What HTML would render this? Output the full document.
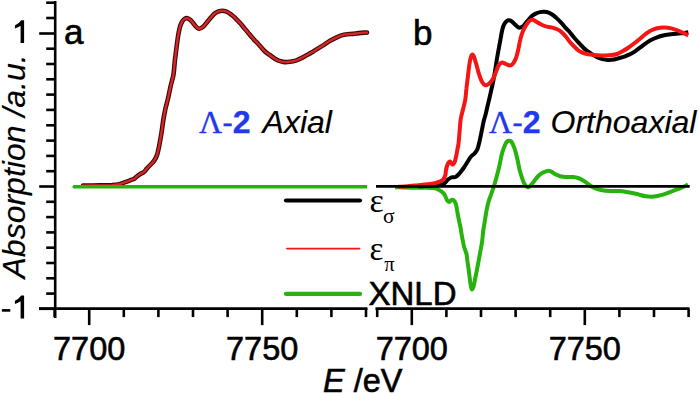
<!DOCTYPE html>
<html><head><meta charset="utf-8"><style>
html,body{margin:0;padding:0;background:#fff;}
svg{display:block;}
text{font-family:"Liberation Sans",sans-serif;stroke:#000;stroke-width:0.6px;}
.nb{stroke:none;}
.it{font-style:italic;stroke-width:0.15px;}
.bl{fill:#2238ec;stroke:#2238ec;stroke-width:0.3px;}
.sf{font-family:"Liberation Serif",serif;}
</style></head><body>
<svg width="700" height="394" viewBox="0 0 700 394">
<rect width="700" height="394" fill="#fff"/>
<g stroke="#000" stroke-width="2.6" fill="none" stroke-linecap="butt">
<line x1="55.2" y1="1" x2="55.2" y2="318"/>
<line x1="46.2" y1="2.7" x2="55.2" y2="2.7"/><line x1="46.2" y1="18.0" x2="55.2" y2="18.0"/><line x1="46.2" y1="48.7" x2="55.2" y2="48.7"/><line x1="46.2" y1="64.0" x2="55.2" y2="64.0"/><line x1="46.2" y1="79.3" x2="55.2" y2="79.3"/><line x1="46.2" y1="94.6" x2="55.2" y2="94.6"/><line x1="46.2" y1="109.9" x2="55.2" y2="109.9"/><line x1="46.2" y1="125.3" x2="55.2" y2="125.3"/><line x1="46.2" y1="140.6" x2="55.2" y2="140.6"/><line x1="46.2" y1="155.9" x2="55.2" y2="155.9"/><line x1="46.2" y1="171.2" x2="55.2" y2="171.2"/><line x1="46.2" y1="201.8" x2="55.2" y2="201.8"/><line x1="46.2" y1="217.1" x2="55.2" y2="217.1"/><line x1="46.2" y1="232.4" x2="55.2" y2="232.4"/><line x1="46.2" y1="247.7" x2="55.2" y2="247.7"/><line x1="46.2" y1="263.0" x2="55.2" y2="263.0"/><line x1="46.2" y1="278.3" x2="55.2" y2="278.3"/><line x1="46.2" y1="293.6" x2="55.2" y2="293.6"/><line x1="39.2" y1="33.5" x2="55.2" y2="33.5"/><line x1="39.2" y1="186.5" x2="55.2" y2="186.5"/><line x1="39.2" y1="308.8" x2="55.2" y2="308.8"/>
<line x1="39" y1="308.6" x2="367.5" y2="308.6"/>
<line x1="375.5" y1="308.6" x2="689.5" y2="308.6"/>
<line x1="54.6" y1="308.6" x2="54.6" y2="317.1"/><line x1="123.8" y1="308.6" x2="123.8" y2="317.1"/><line x1="158.4" y1="308.6" x2="158.4" y2="317.1"/><line x1="193.0" y1="308.6" x2="193.0" y2="317.1"/><line x1="227.6" y1="308.6" x2="227.6" y2="317.1"/><line x1="296.8" y1="308.6" x2="296.8" y2="317.1"/><line x1="331.4" y1="308.6" x2="331.4" y2="317.1"/><line x1="366.0" y1="308.6" x2="366.0" y2="317.1"/><line x1="89.2" y1="308.6" x2="89.2" y2="325.1"/><line x1="262.2" y1="308.6" x2="262.2" y2="325.1"/>
<line x1="377.2" y1="308.6" x2="377.2" y2="317.1"/><line x1="446.4" y1="308.6" x2="446.4" y2="317.1"/><line x1="481.0" y1="308.6" x2="481.0" y2="317.1"/><line x1="515.6" y1="308.6" x2="515.6" y2="317.1"/><line x1="550.2" y1="308.6" x2="550.2" y2="317.1"/><line x1="619.4" y1="308.6" x2="619.4" y2="317.1"/><line x1="654.0" y1="308.6" x2="654.0" y2="317.1"/><line x1="688.6" y1="308.6" x2="688.6" y2="317.1"/><line x1="411.8" y1="308.6" x2="411.8" y2="325.1"/><line x1="584.8" y1="308.6" x2="584.8" y2="325.1"/>
</g>
<!-- panel a -->
<path d="M83.0,185.6 C85.8,185.6 95.2,185.5 100.0,185.4 C104.8,185.3 109.0,185.2 112.0,185.1 C115.0,184.9 116.3,184.8 118.0,184.5 C119.7,184.2 120.8,183.7 122.0,183.3 C123.2,182.9 123.9,182.7 125.3,182.2 C126.7,181.7 128.9,180.8 130.4,180.2 C131.9,179.6 133.2,179.3 134.3,178.7 C135.4,178.1 135.8,177.3 136.8,176.5 C137.8,175.7 139.1,174.8 140.3,174.0 C141.5,173.2 142.9,172.8 143.9,172.0 C144.9,171.2 145.7,169.9 146.6,168.9 C147.5,167.9 148.2,167.1 149.2,166.0 C150.2,164.9 151.8,163.7 152.8,162.4 C153.9,161.2 154.8,159.7 155.5,158.5 C156.2,157.3 156.6,156.3 157.0,155.0 C157.4,153.7 157.6,153.1 158.1,150.9 C158.6,148.7 159.3,145.3 159.9,142.0 C160.5,138.7 161.1,135.1 161.7,131.3 C162.3,127.6 162.9,122.5 163.4,119.5 C163.9,116.5 164.2,114.9 164.6,113.0 C165.0,111.1 165.1,110.0 165.6,108.0 C166.1,106.0 166.8,103.3 167.4,101.0 C168.0,98.7 168.5,96.4 169.0,94.0 C169.5,91.6 170.0,89.0 170.5,86.7 C171.0,84.4 171.7,82.0 172.2,80.0 C172.7,78.0 173.2,76.7 173.5,74.5 C173.8,72.3 174.1,69.4 174.3,67.0 C174.5,64.6 174.6,63.1 174.9,60.3 C175.2,57.5 175.8,53.4 176.2,50.0 C176.6,46.6 177.1,43.0 177.5,40.0 C177.9,37.0 178.3,34.4 178.8,32.0 C179.3,29.6 179.7,27.6 180.3,25.8 C180.9,24.0 181.6,22.5 182.3,21.3 C183.0,20.1 183.8,19.4 184.6,18.9 C185.4,18.4 186.3,17.9 187.4,18.2 C188.5,18.5 189.7,19.3 191.0,20.5 C192.3,21.7 193.7,24.1 195.0,25.5 C196.3,26.9 197.6,28.6 199.0,28.8 C200.4,29.0 202.1,27.6 203.4,26.5 C204.7,25.4 205.8,23.7 206.9,22.3 C208.1,20.9 209.2,19.6 210.3,18.3 C211.4,17.0 212.6,15.4 213.7,14.3 C214.8,13.2 215.9,12.6 217.1,12.0 C218.2,11.4 219.4,11.1 220.6,10.9 C221.8,10.7 222.9,10.7 224.0,10.9 C225.1,11.1 226.2,11.4 227.4,12.0 C228.6,12.6 229.8,13.5 230.9,14.3 C232.1,15.2 233.2,16.1 234.3,17.1 C235.4,18.2 236.6,19.4 237.7,20.6 C238.8,21.8 239.9,22.9 241.1,24.2 C242.2,25.5 243.4,27.2 244.6,28.6 C245.8,30.0 246.9,31.3 248.0,32.6 C249.1,33.9 250.2,35.3 251.4,36.6 C252.6,37.9 253.8,39.4 254.9,40.6 C256.1,41.8 256.8,42.4 258.3,44.0 C259.8,45.6 262.1,48.6 264.0,50.5 C265.9,52.4 268.3,53.9 270.0,55.2 C271.7,56.5 272.9,57.4 274.3,58.3 C275.7,59.2 276.9,60.1 278.6,60.7 C280.3,61.3 282.4,61.9 284.3,62.1 C286.2,62.3 288.1,62.0 290.0,61.7 C291.9,61.5 293.8,61.2 295.7,60.6 C297.6,60.0 299.5,59.0 301.4,58.1 C303.3,57.2 305.2,56.0 307.1,55.0 C309.0,54.0 311.0,52.9 312.9,51.8 C314.8,50.6 316.7,49.3 318.6,48.1 C320.5,46.9 322.4,45.8 324.3,44.6 C326.2,43.4 328.1,41.8 330.0,40.7 C331.9,39.6 333.8,38.8 335.7,37.9 C337.6,37.0 339.5,36.0 341.4,35.4 C343.3,34.8 345.2,34.5 347.1,34.3 C349.0,34.0 351.0,34.1 352.9,33.9 C354.8,33.7 356.7,33.3 358.6,33.1 C360.5,32.9 362.9,32.7 364.3,32.6 C365.7,32.5 366.6,32.6 367.0,32.6" fill="none" stroke="#3a0808" stroke-width="4.6" stroke-linejoin="round" stroke-linecap="round"/>
<path d="M83.0,185.6 C85.8,185.6 95.2,185.5 100.0,185.4 C104.8,185.3 109.0,185.2 112.0,185.1 C115.0,184.9 116.3,184.8 118.0,184.5 C119.7,184.2 120.8,183.7 122.0,183.3 C123.2,182.9 123.9,182.7 125.3,182.2 C126.7,181.7 128.9,180.8 130.4,180.2 C131.9,179.6 133.2,179.3 134.3,178.7 C135.4,178.1 135.8,177.3 136.8,176.5 C137.8,175.7 139.1,174.8 140.3,174.0 C141.5,173.2 142.9,172.8 143.9,172.0 C144.9,171.2 145.7,169.9 146.6,168.9 C147.5,167.9 148.2,167.1 149.2,166.0 C150.2,164.9 151.8,163.7 152.8,162.4 C153.9,161.2 154.8,159.7 155.5,158.5 C156.2,157.3 156.6,156.3 157.0,155.0 C157.4,153.7 157.6,153.1 158.1,150.9 C158.6,148.7 159.3,145.3 159.9,142.0 C160.5,138.7 161.1,135.1 161.7,131.3 C162.3,127.6 162.9,122.5 163.4,119.5 C163.9,116.5 164.2,114.9 164.6,113.0 C165.0,111.1 165.1,110.0 165.6,108.0 C166.1,106.0 166.8,103.3 167.4,101.0 C168.0,98.7 168.5,96.4 169.0,94.0 C169.5,91.6 170.0,89.0 170.5,86.7 C171.0,84.4 171.7,82.0 172.2,80.0 C172.7,78.0 173.2,76.7 173.5,74.5 C173.8,72.3 174.1,69.4 174.3,67.0 C174.5,64.6 174.6,63.1 174.9,60.3 C175.2,57.5 175.8,53.4 176.2,50.0 C176.6,46.6 177.1,43.0 177.5,40.0 C177.9,37.0 178.3,34.4 178.8,32.0 C179.3,29.6 179.7,27.6 180.3,25.8 C180.9,24.0 181.6,22.5 182.3,21.3 C183.0,20.1 183.8,19.4 184.6,18.9 C185.4,18.4 186.3,17.9 187.4,18.2 C188.5,18.5 189.7,19.3 191.0,20.5 C192.3,21.7 193.7,24.1 195.0,25.5 C196.3,26.9 197.6,28.6 199.0,28.8 C200.4,29.0 202.1,27.6 203.4,26.5 C204.7,25.4 205.8,23.7 206.9,22.3 C208.1,20.9 209.2,19.6 210.3,18.3 C211.4,17.0 212.6,15.4 213.7,14.3 C214.8,13.2 215.9,12.6 217.1,12.0 C218.2,11.4 219.4,11.1 220.6,10.9 C221.8,10.7 222.9,10.7 224.0,10.9 C225.1,11.1 226.2,11.4 227.4,12.0 C228.6,12.6 229.8,13.5 230.9,14.3 C232.1,15.2 233.2,16.1 234.3,17.1 C235.4,18.2 236.6,19.4 237.7,20.6 C238.8,21.8 239.9,22.9 241.1,24.2 C242.2,25.5 243.4,27.2 244.6,28.6 C245.8,30.0 246.9,31.3 248.0,32.6 C249.1,33.9 250.2,35.3 251.4,36.6 C252.6,37.9 253.8,39.4 254.9,40.6 C256.1,41.8 256.8,42.4 258.3,44.0 C259.8,45.6 262.1,48.6 264.0,50.5 C265.9,52.4 268.3,53.9 270.0,55.2 C271.7,56.5 272.9,57.4 274.3,58.3 C275.7,59.2 276.9,60.1 278.6,60.7 C280.3,61.3 282.4,61.9 284.3,62.1 C286.2,62.3 288.1,62.0 290.0,61.7 C291.9,61.5 293.8,61.2 295.7,60.6 C297.6,60.0 299.5,59.0 301.4,58.1 C303.3,57.2 305.2,56.0 307.1,55.0 C309.0,54.0 311.0,52.9 312.9,51.8 C314.8,50.6 316.7,49.3 318.6,48.1 C320.5,46.9 322.4,45.8 324.3,44.6 C326.2,43.4 328.1,41.8 330.0,40.7 C331.9,39.6 333.8,38.8 335.7,37.9 C337.6,37.0 339.5,36.0 341.4,35.4 C343.3,34.8 345.2,34.5 347.1,34.3 C349.0,34.0 351.0,34.1 352.9,33.9 C354.8,33.7 356.7,33.3 358.6,33.1 C360.5,32.9 362.9,32.7 364.3,32.6 C365.7,32.5 366.6,32.6 367.0,32.6" fill="none" stroke="#d62626" stroke-width="2.4" stroke-linejoin="round" stroke-linecap="round"/>
<line x1="74.2" y1="186.8" x2="367" y2="186.8" stroke="#27b20d" stroke-width="3.6" stroke-linecap="butt"/><circle cx="74.2" cy="186.8" r="1.8" fill="#27b20d"/>
<!-- panel b -->
<path d="M395.0,187.2 C396.7,187.2 400.8,187.4 405.0,187.5 C409.2,187.6 415.5,187.7 420.0,187.8 C424.5,187.9 429.2,187.8 432.0,188.0 C434.8,188.2 435.4,188.2 437.0,188.8 C438.6,189.4 440.2,190.5 441.5,191.5 C442.8,192.5 443.7,193.2 444.6,194.6 C445.5,196.0 446.1,198.7 446.9,199.9 C447.6,201.1 448.4,202.0 449.1,202.0 C449.9,202.0 450.6,200.3 451.4,200.0 C452.2,199.7 452.9,199.4 453.7,200.2 C454.5,200.9 455.4,202.4 456.0,204.5 C456.6,206.6 457.0,210.1 457.5,212.8 C458.0,215.5 458.5,218.0 459.0,220.5 C459.5,223.0 460.1,225.2 460.6,228.0 C461.1,230.8 461.5,234.1 462.1,237.2 C462.7,240.3 463.3,243.7 464.0,246.5 C464.7,249.3 465.9,251.6 466.5,254.0 C467.1,256.4 467.1,258.7 467.4,261.0 C467.7,263.3 468.0,265.3 468.4,267.9 C468.8,270.4 469.1,273.5 469.5,276.3 C469.9,279.1 470.2,282.4 470.6,284.6 C471.0,286.8 471.3,289.3 471.8,289.5 C472.3,289.7 473.1,287.8 473.7,286.0 C474.2,284.2 474.6,281.6 475.1,279.0 C475.6,276.4 476.2,273.7 476.8,270.7 C477.4,267.7 478.0,264.2 478.6,261.0 C479.2,257.8 479.8,254.4 480.4,251.2 C481.0,247.9 481.6,245.1 482.1,241.5 C482.6,237.9 482.9,233.1 483.4,229.6 C483.9,226.1 484.4,223.6 484.9,220.5 C485.4,217.4 485.8,214.4 486.4,211.3 C487.0,208.2 487.6,205.0 488.4,202.2 C489.2,199.4 490.2,196.8 491.0,194.6 C491.8,192.4 492.4,190.9 493.0,189.0 C493.6,187.1 494.2,185.3 494.9,183.0 C495.6,180.7 496.4,177.9 497.1,175.0 C497.9,172.1 498.8,168.4 499.4,165.7 C500.0,163.0 500.3,161.2 500.8,159.0 C501.3,156.8 501.6,154.6 502.3,152.3 C503.0,150.0 504.1,147.0 504.9,145.2 C505.7,143.4 506.2,142.4 506.9,141.7 C507.6,141.0 508.4,140.8 509.2,140.8 C510.0,140.8 510.6,140.4 511.5,141.7 C512.4,142.9 513.7,146.0 514.5,148.3 C515.3,150.6 515.9,153.0 516.5,155.4 C517.1,157.8 517.6,160.1 518.1,162.5 C518.6,164.9 519.1,167.9 519.6,170.0 C520.1,172.1 520.5,173.1 521.1,175.0 C521.7,176.9 522.6,179.9 523.4,181.7 C524.2,183.5 524.9,184.8 525.7,185.7 C526.5,186.6 527.2,187.4 528.0,187.4 C528.8,187.4 529.3,186.6 530.3,185.7 C531.2,184.8 532.4,183.3 533.7,181.7 C535.0,180.1 536.8,177.5 538.3,176.0 C539.8,174.5 541.4,173.4 542.9,172.6 C544.4,171.8 546.1,171.1 547.4,170.9 C548.7,170.7 549.6,170.8 550.9,171.4 C552.2,172.0 553.9,173.5 555.4,174.3 C556.9,175.1 558.2,175.8 560.0,176.2 C561.8,176.6 564.0,176.9 566.0,177.0 C568.0,177.1 570.0,176.8 572.0,177.0 C574.0,177.2 576.0,177.3 578.0,178.0 C580.0,178.7 582.0,179.8 584.0,181.0 C586.0,182.2 588.0,184.2 590.0,185.5 C592.0,186.8 594.0,187.8 596.0,188.6 C598.0,189.4 599.5,189.9 602.0,190.3 C604.5,190.7 608.0,190.9 611.0,191.0 C614.0,191.1 616.8,190.8 619.7,191.0 C622.6,191.2 625.5,191.8 628.4,192.3 C631.3,192.8 634.1,193.3 637.0,194.0 C639.9,194.7 642.7,195.9 645.6,196.3 C648.5,196.7 651.4,196.9 654.3,196.6 C657.2,196.3 660.1,195.4 663.0,194.6 C665.9,193.8 668.7,192.6 671.5,191.5 C674.3,190.4 677.2,189.5 680.0,188.3 C682.8,187.1 686.7,185.1 688.0,184.5" fill="none" stroke="#27b20d" stroke-width="4" stroke-linejoin="round" stroke-linecap="butt"/>
<path d="M418.0,186.3 C419.2,186.3 422.7,186.2 425.0,186.1 C427.3,186.0 429.3,185.8 432.0,185.6 C434.7,185.4 439.3,185.3 441.4,184.9 C443.5,184.5 443.7,183.9 444.8,183.0 C445.9,182.1 446.9,180.4 448.0,179.5 C449.1,178.6 450.2,177.7 451.5,177.3 C452.8,176.9 454.3,177.5 455.5,177.0 C456.7,176.5 457.6,175.4 458.5,174.5 C459.4,173.6 460.1,172.7 461.0,171.5 C461.9,170.3 463.1,168.8 464.0,167.5 C464.9,166.2 465.7,164.8 466.5,163.5 C467.3,162.2 468.2,160.8 469.0,159.5 C469.8,158.2 470.6,157.0 471.5,156.0 C472.4,155.0 473.5,154.7 474.5,153.5 C475.5,152.3 476.7,151.0 477.5,149.0 C478.3,147.0 478.8,144.3 479.5,141.5 C480.2,138.7 480.8,135.2 481.5,132.0 C482.2,128.8 482.8,125.0 483.5,122.0 C484.2,119.0 485.0,116.8 485.7,114.0 C486.4,111.2 487.1,107.8 487.8,105.0 C488.5,102.2 489.1,99.7 489.7,97.0 C490.3,94.3 490.9,91.8 491.5,89.0 C492.1,86.2 492.9,83.2 493.5,80.0 C494.1,76.8 494.7,73.3 495.2,70.0 C495.7,66.7 496.2,63.4 496.7,60.2 C497.2,57.1 497.8,54.1 498.3,51.1 C498.9,48.1 499.4,45.0 500.0,42.0 C500.6,39.0 501.1,35.6 501.6,33.0 C502.1,30.4 502.6,28.3 503.2,26.5 C503.8,24.7 504.7,23.3 505.5,22.3 C506.3,21.3 507.2,20.5 508.1,20.3 C509.1,20.1 510.2,20.4 511.2,21.0 C512.2,21.6 513.2,22.8 514.2,23.7 C515.2,24.6 516.5,26.0 517.5,26.7 C518.5,27.4 519.0,27.8 520.0,27.6 C521.0,27.4 522.4,26.7 523.6,25.7 C524.8,24.7 525.8,22.9 527.1,21.4 C528.4,19.8 530.0,17.7 531.4,16.4 C532.8,15.1 534.3,14.3 535.7,13.6 C537.1,12.9 538.6,12.4 540.0,12.1 C541.4,11.8 542.9,11.6 544.3,11.7 C545.7,11.8 547.2,12.0 548.6,12.6 C550.0,13.2 551.5,14.0 552.9,15.0 C554.3,16.0 555.7,17.3 557.1,18.6 C558.5,19.9 560.0,21.3 561.4,22.9 C562.8,24.4 564.3,26.3 565.7,27.9 C567.1,29.5 568.6,30.9 570.0,32.5 C571.4,34.1 572.4,35.7 574.0,37.5 C575.6,39.3 577.5,41.5 579.4,43.5 C581.2,45.5 583.2,47.8 585.1,49.4 C587.0,51.0 589.0,52.1 590.9,53.4 C592.8,54.6 594.7,55.9 596.6,56.9 C598.5,57.9 600.4,58.6 602.3,59.1 C604.2,59.6 606.1,59.8 608.0,59.9 C609.9,60.0 611.8,59.8 613.7,59.5 C615.6,59.2 617.5,58.5 619.4,58.0 C621.3,57.5 623.2,57.0 625.1,56.3 C627.0,55.6 629.1,54.8 631.0,53.8 C632.9,52.8 634.6,51.6 636.6,50.2 C638.6,48.8 640.8,46.9 643.0,45.3 C645.2,43.7 647.7,41.8 650.0,40.5 C652.3,39.2 654.7,38.2 657.0,37.3 C659.3,36.4 661.7,35.8 664.0,35.3 C666.3,34.8 668.6,34.5 671.0,34.2 C673.4,33.9 676.4,33.7 678.6,33.5 C680.8,33.3 682.7,33.2 684.3,33.0 C685.9,32.8 687.6,32.3 688.3,32.2" fill="none" stroke="#000" stroke-width="4" stroke-linejoin="round" stroke-linecap="butt"/>
<path d="M398.0,186.8 C399.2,186.7 402.2,186.6 405.0,186.4 C407.8,186.2 411.7,185.8 415.0,185.5 C418.3,185.2 422.2,184.9 425.0,184.6 C427.8,184.3 430.0,184.0 432.0,183.7 C434.0,183.4 435.0,183.2 436.8,182.6 C438.6,182.0 441.2,181.2 442.6,180.0 C444.0,178.8 444.7,177.0 445.3,175.3 C445.9,173.6 445.6,172.0 446.0,170.0 C446.4,168.0 447.3,164.9 448.0,163.5 C448.7,162.1 449.2,161.3 450.0,161.5 C450.8,161.7 451.8,164.3 452.5,164.5 C453.2,164.7 453.9,163.8 454.5,162.5 C455.1,161.2 455.5,159.1 456.0,157.0 C456.5,154.9 456.9,152.3 457.3,150.0 C457.7,147.7 458.2,146.3 458.6,143.0 C459.0,139.7 459.3,134.1 459.7,130.0 C460.1,125.9 460.2,122.0 460.8,118.5 C461.4,115.0 462.4,112.1 463.1,109.0 C463.8,105.9 464.6,103.3 465.2,100.0 C465.8,96.7 465.9,92.9 466.4,89.0 C466.8,85.1 467.4,80.6 467.9,76.5 C468.4,72.4 468.9,67.6 469.4,64.3 C469.9,61.0 470.5,58.4 471.0,56.7 C471.5,55.1 472.0,54.4 472.5,54.4 C473.0,54.4 473.4,55.1 474.0,56.7 C474.6,58.4 475.4,61.2 476.3,64.3 C477.2,67.3 478.3,72.0 479.3,75.0 C480.3,78.0 481.4,80.9 482.4,82.6 C483.4,84.3 484.4,85.0 485.4,85.3 C486.4,85.5 487.5,84.8 488.5,84.1 C489.5,83.4 490.6,82.1 491.5,81.0 C492.4,79.9 492.9,79.3 493.8,77.5 C494.7,75.7 495.8,72.1 496.7,70.0 C497.6,67.9 498.1,66.0 499.0,64.8 C499.9,63.5 500.9,62.6 502.0,62.5 C503.1,62.4 504.6,63.5 505.9,64.0 C507.2,64.5 508.6,65.5 509.7,65.5 C510.8,65.5 511.7,65.2 512.7,64.0 C513.8,62.8 515.0,60.6 516.0,58.0 C517.0,55.4 517.8,51.6 518.5,48.5 C519.2,45.4 519.5,42.4 520.3,39.5 C521.0,36.6 522.0,33.5 523.0,31.0 C524.0,28.5 525.3,26.2 526.5,24.5 C527.7,22.8 528.9,21.3 530.0,20.5 C531.1,19.7 531.9,19.6 533.0,19.8 C534.1,20.0 535.1,21.1 536.4,21.8 C537.7,22.6 539.2,23.5 540.7,24.3 C542.2,25.1 543.9,25.9 545.7,26.4 C547.5,26.9 549.5,26.9 551.4,27.4 C553.3,27.9 555.4,28.5 557.1,29.3 C558.8,30.1 560.0,30.9 561.4,32.1 C562.8,33.3 564.4,34.9 565.7,36.4 C567.1,37.9 568.2,39.8 569.5,41.4 C570.8,43.0 572.2,44.5 573.7,46.0 C575.2,47.5 576.8,49.2 578.3,50.3 C579.8,51.4 581.2,52.1 582.9,52.8 C584.6,53.5 586.7,53.9 588.6,54.3 C590.5,54.6 592.4,54.7 594.3,54.9 C596.2,55.1 598.1,55.3 600.0,55.4 C601.9,55.5 603.8,55.4 605.7,55.4 C607.6,55.4 609.5,55.3 611.4,55.1 C613.3,54.9 615.2,54.7 617.1,54.0 C619.0,53.3 621.0,52.2 622.9,51.1 C624.8,50.0 626.7,48.8 628.6,47.5 C630.5,46.2 632.4,44.8 634.3,43.3 C636.2,41.8 638.2,40.3 640.0,38.8 C641.8,37.3 643.3,35.8 645.0,34.5 C646.7,33.2 648.0,32.0 650.0,31.0 C652.0,30.0 654.7,28.9 657.0,28.3 C659.3,27.7 661.6,27.4 664.0,27.4 C666.4,27.4 669.0,27.8 671.4,28.4 C673.8,29.0 676.5,30.0 678.6,30.8 C680.8,31.6 682.7,32.5 684.3,33.3 C685.9,34.0 687.6,35.0 688.3,35.3" fill="none" stroke="#f41515" stroke-width="4" stroke-linejoin="round" stroke-linecap="butt"/>
<line x1="376" y1="186.4" x2="689.7" y2="186.4" stroke="#000" stroke-width="2.9"/>
<!-- legend -->
<line x1="286" y1="200.5" x2="360" y2="200.5" stroke="#000" stroke-width="4.2" stroke-linecap="round"/>
<line x1="287" y1="248.6" x2="359.5" y2="248.6" stroke="#f41515" stroke-width="1.8" stroke-linecap="round"/>
<line x1="286" y1="293.9" x2="360" y2="293.9" stroke="#27b20d" stroke-width="4.2" stroke-linecap="round"/>
<g class="sf" fill="#000">
<text class="sf nb" x="369.5" y="211.8" font-size="34">&#949;</text>
<text class="sf nb" x="383" y="223.4" font-size="21.5">&#963;</text>
<text class="sf nb" x="369.5" y="260.3" font-size="33">&#949;</text>
<text class="sf nb" x="384.2" y="271.4" font-size="20.5">&#960;</text>
</g>
<text x="368.5" y="304.6" font-size="33">XNLD</text>
<!-- axis labels -->
<g font-size="32.5" fill="#000" text-anchor="middle">
<text x="89.2" y="359.5">7700</text>
<text x="262.2" y="359.5">7750</text>
<text x="411.8" y="359.5">7700</text>
<text x="584.8" y="359.5">7750</text>
</g>
<path d="M24.1,20.2 L24.1,43 L20.6,43 L20.6,25.8 Q18.2,27.6 14.9,28.6 L14.9,25.4 Q18.6,23.8 21.3,20.2 Z" fill="#000"/>
<path transform="translate(0,275.4)" d="M24.1,20.2 L24.1,43 L20.6,43 L20.6,25.8 Q18.2,27.6 14.9,28.6 L14.9,25.4 Q18.6,23.8 21.3,20.2 Z" fill="#000"/>
<rect x="1.9" y="309.1" width="8.4" height="2.6" fill="#000"/>
<text x="323" y="392" font-size="32.5"><tspan font-style="italic">E</tspan> /eV</text>
<text transform="translate(24.5,278.5) rotate(-90)" font-size="32" class="it">Absorption /a.u.</text>
<!-- panel labels -->
<text x="64" y="44.3" font-size="35">a</text>
<text x="413" y="45.4" font-size="35">b</text>
<text x="199" y="132.6" font-size="32"><tspan class="sf bl">&#923;</tspan><tspan class="bl">-</tspan><tspan class="bl" font-weight="bold">2</tspan> <tspan class="it" dx="3">Axial</tspan></text>
<text x="489" y="132.6" font-size="32"><tspan class="sf bl">&#923;</tspan><tspan class="bl">-</tspan><tspan class="bl" font-weight="bold">2</tspan> <tspan class="it" dx="1">Orthoaxial</tspan></text>
</svg>
</body></html>
